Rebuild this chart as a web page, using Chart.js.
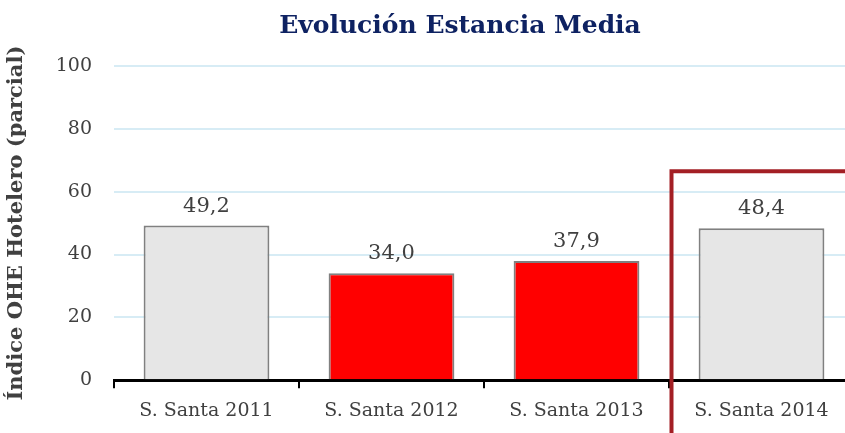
<!DOCTYPE html>
<html>
<head>
<meta charset="utf-8">
<script src="https://cdn.jsdelivr.net/npm/chart.js@4"></script>
<style>
  html, body { margin: 0; padding: 0; background: #fff; overflow: hidden; }
  #wrap { width: 854px; height: 433px; }
</style>
</head>
<body>
<div id="wrap"><canvas id="chartBar"></canvas></div>
<script>
const labels = ['S. Santa 2011', 'S. Santa 2012', 'S. Santa 2013', 'S. Santa 2014'];
const values = [49.2, 34.0, 37.9, 48.4];
const barColors = ['#E6E6E6', '#FF0000', '#FF0000', '#E6E6E6'];
const yTicks = [0, 20, 40, 60, 80, 100];
const chartTitle = 'Evolución Estancia Media';
const highlightIndex = 3;
const highlightTop = 66.5;

const SERIF = "'DejaVu Serif', 'Liberation Serif', serif";

// value labels above each bar, with decimal comma
const valueLabels = {
    id: 'valueLabels',
    afterDatasetsDraw(chart) {
        const c = chart.ctx;
        const meta = chart.getDatasetMeta(0);
        c.save();
        c.font = "21px " + SERIF;
        c.fillStyle = '#404040';
        c.textAlign = 'center';
        c.textBaseline = 'alphabetic';
        meta.data.forEach((bar, i) => {
            c.fillText(values[i].toFixed(1).replace('.', ','), bar.x, bar.y - 14);
        });
        c.restore();
    }
};

// title, a bit right of the canvas centre like the original
const titleDraw = {
    id: 'titleDraw',
    afterDraw(chart) {
        const c = chart.ctx;
        c.save();
        c.font = "bold 25px " + SERIF;
        c.fillStyle = '#0E2262';
        c.textAlign = 'center';
        c.textBaseline = 'alphabetic';
        c.fillText(chartTitle, 460, 33);
        c.restore();
    }
};

// dark red frame round the last category
const highlightBox = {
    id: 'highlightBox',
    afterDraw(chart) {
        const c = chart.ctx;
        const x = chart.scales.x, y = chart.scales.y;
        const half = (x.getPixelForValue(1) - x.getPixelForValue(0)) / 2;
        const left = x.getPixelForValue(highlightIndex) - half;
        const top = y.getPixelForValue(highlightTop);
        c.save();
        c.strokeStyle = '#A31F24';
        c.lineWidth = 4;
        c.strokeRect(left + 2.5, top, chart.width, chart.height);
        c.restore();
    }
};

var ctx = document.getElementById('chartBar').getContext('2d');
var chart = new Chart(ctx, {
    type: 'bar',
    data: {
        labels: labels,
        datasets: [{
            data: values,
            backgroundColor: barColors,
            borderColor: '#808080',
            borderWidth: 2,
            categoryPercentage: 1,
            barPercentage: 0.68
        }]
    },
    options: {
        responsive: true,
        maintainAspectRatio: false,
        animation: false,
        layout: { padding: { left: 0, right: 0, top: 66, bottom: 0 } },
        plugins: {
            legend: { display: false },
            tooltip: { enabled: false },
            title: { display: false }
        },
        scales: {
            x: {
                grid: {
                    offset: true,
                    drawOnChartArea: false,
                    color: '#000',
                    lineWidth: 2,
                    tickLength: 8
                },
                border: { color: '#000', width: 3 },
                ticks: {
                    color: '#404040',
                    font: { family: SERIF, size: 19 },
                    padding: 11
                }
            },
            y: {
                min: 0,
                max: 100,
                afterBuildTicks: s => { s.ticks = yTicks.map(v => ({ value: v })); },
                afterFit: s => { s.width = 114; },
                grid: {
                    color: ctx => ctx.tick.value === 0 ? 'rgba(0,0,0,0)' : '#D7ECF5',
                    lineWidth: 2,
                    drawTicks: false
                },
                border: { display: false },
                ticks: {
                    color: '#404040',
                    font: { family: SERIF, size: 19 },
                    padding: 22
                },
                title: {
                    display: true,
                    text: 'Índice OHE Hotelero (parcial)',
                    color: '#404040',
                    font: { family: SERIF, size: 21, weight: 'bold' },
                    padding: { top: 4, bottom: 0 }
                }
            }
        }
    },
    plugins: [valueLabels, highlightBox, titleDraw]
});
</script>
</body>
</html>
